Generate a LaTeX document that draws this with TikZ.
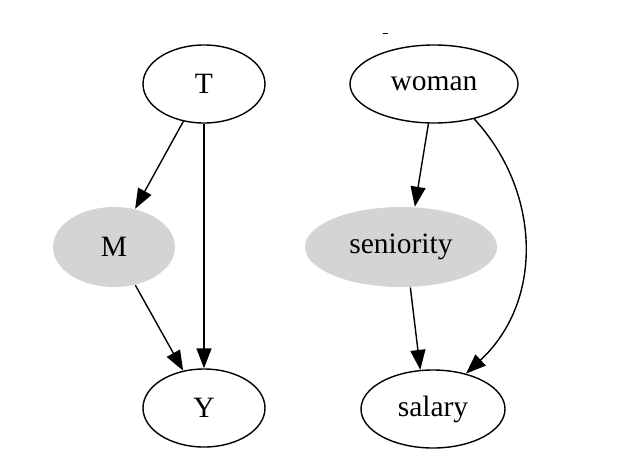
\documentclass[tikz,border=0pt]{standalone}
\usepackage{fontspec}
\setmainfont{Liberation Serif}
\usetikzlibrary{shapes.geometric,arrows.meta}
\tikzset{
  vnode/.style={ellipse,draw=black,line width=1.4pt,inner sep=0pt,font=\fontsize{29.5}{34}\selectfont},
  hidden/.style={vnode,draw=none,fill=black!17},
  edge/.style={draw=black,line width=1.4pt,-{Triangle[length=20pt,width=15pt]}}
}
\begin{document}
\begin{tikzpicture}[x=1pt,y=-1pt]
\useasboundingbox[fill=white] (0,0) rectangle (620,474);
\node[vnode,minimum width=122pt,minimum height=78pt] (T) at (204,84) {T};
\node[vnode,minimum width=168pt,minimum height=78pt] (woman) at (434,84) {woman};
\node[hidden,minimum width=122pt,minimum height=80pt] (M) at (114,247) {M};
\node[hidden,minimum width=192pt,minimum height=80pt] (seniority) at (401,247) {seniority};
\node[vnode,minimum width=122pt,minimum height=78pt] (Y) at (204,408) {Y};
\node[vnode,minimum width=144pt,minimum height=78pt] (salary) at (433,409) {salary};
\draw[edge] (T) -- (M);
\draw[edge] (T) -- (Y);
\draw[edge] (M) -- (Y);
\draw[edge] (woman.-98) -- (seniority.71);
\draw[edge] (seniority.-77) -- (salary.108);
\draw[edge] (woman.-41) .. controls (540,190) and (545,300) .. (salary.47);
\coordinate (d1) at (382.7,33.3);
\coordinate (d2) at (388.3,33.3);
\draw[line width=1pt] (d1) -- (d2);
\end{tikzpicture}
\end{document}
